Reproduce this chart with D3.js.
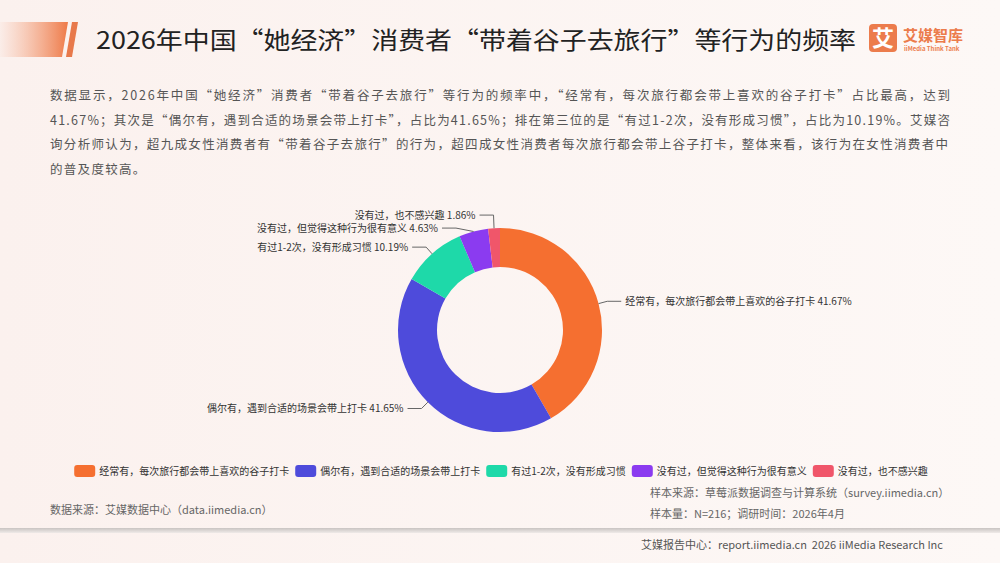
<!DOCTYPE html>
<html><head><meta charset="utf-8">
<script src="https://cdn.jsdelivr.net/npm/d3@7/dist/d3.min.js"></script>
<style>
html,body{margin:0;padding:0;background:#fcf5f2;}
svg{display:block;font-family:"Noto Sans CJK SC","Noto Sans",sans-serif;}
</style></head>
<body><svg id="c" width="1000" height="563"></svg>
<script>
const categories = ["经常有，每次旅行都会带上喜欢的谷子打卡","偶尔有，遇到合适的场景会带上打卡","有过1-2次，没有形成习惯","没有过，但觉得这种行为很有意义","没有过，也不感兴趣"];
const values = [41.67, 41.65, 10.19, 4.63, 1.86];
const colors = ["#f56f30","#4e4bdb","#1ed9a9","#8b3bf0","#f0566a"];
const titleText = "2026年中国“她经济”消费者“带着谷子去旅行”等行为的频率";
const paragraph = [
 "数据显示，2026年中国“她经济”消费者“带着谷子去旅行”等行为的频率中，“经常有，每次旅行都会带上喜欢的谷子打卡”占比最高，达到",
 "41.67%；其次是“偶尔有，遇到合适的场景会带上打卡”，占比为41.65%；排在第三位的是“有过1-2次，没有形成习惯”，占比为10.19%。艾媒咨",
 "询分析师认为，超九成女性消费者有“带着谷子去旅行”的行为，超四成女性消费者每次旅行都会带上谷子打卡，整体来看，该行为在女性消费者中",
 "的普及度较高。"
];
const sourceLeft = "数据来源：艾媒数据中心（data.iimedia.cn）";
const sourceRight = ["样本来源：草莓派数据调查与计算系统（survey.iimedia.cn）","样本量：N=216；调研时间：2026年4月"];
const footer = "艾媒报告中心：report.iimedia.cn\u00a0\u00a02026 iiMedia Research Inc";

const svg = d3.select("#c");
const defs = svg.append("defs");
const bg = defs.append("linearGradient").attr("id","bg").attr("x1",0).attr("x2",1).attr("y1",0).attr("y2",0);
bg.append("stop").attr("offset","0").attr("stop-color","#fbf1ee");
bg.append("stop").attr("offset","1").attr("stop-color","#fdf8f6");
svg.append("rect").attr("width",1000).attr("height",563).attr("fill","url(#bg)");

// header bar
const hg = defs.append("linearGradient").attr("id","hg").attr("x1",0).attr("x2",1).attr("y1",0).attr("y2",0);
hg.append("stop").attr("offset","0").attr("stop-color","#f4a27e").attr("stop-opacity",0.05);
hg.append("stop").attr("offset","1").attr("stop-color","#ee7a48");
svg.append("polygon").attr("points","0,22 68,22 62,57 0,57").attr("fill","url(#hg)");
svg.append("polygon").attr("points","72,22 78,22 72,57 66,57").attr("fill","#e8794b");

svg.append("text").attr("x",96).attr("y",49).attr("font-size",24).attr("fill","#222")
  .attr("textLength",760).attr("lengthAdjust","spacingAndGlyphs").text(titleText);

// logo
svg.append("rect").attr("x",869).attr("y",24).attr("width",28).attr("height",28).attr("rx",4).attr("fill","#ec7c4c");
svg.append("text").attr("x",883).attr("y",46).attr("text-anchor","middle").attr("font-size",22).attr("font-weight","bold").attr("fill","#fff").text("艾");
svg.append("text").attr("x",903).attr("y",41).attr("font-size",15).attr("font-weight","bold").attr("fill","#ec7c4c").text("艾媒智库");
svg.append("text").attr("x",904).attr("y",51).attr("font-size",6).attr("font-weight","bold").attr("fill","#ec7c4c").text("iiMedia Think Tank");

// paragraph
paragraph.forEach((t,i)=>{
  const tx = svg.append("text").attr("x",50).attr("y",100+i*24.7).attr("font-size",12.5).attr("fill","#555").text(t);
  if(i<3) tx.attr("textLength",i===2?898:900).attr("lengthAdjust","spacing");
  else tx.attr("letter-spacing",1.3);
});

// donut
const cx=500, cy=330, R=102, r0=63;
const pie = d3.pie().sort(null).value(d=>d)(values);
const arc = d3.arc().innerRadius(r0).outerRadius(R);
const g = svg.append("g").attr("transform",`translate(${cx},${cy})`);
g.selectAll("path").data(pie).join("path").attr("d",arc).attr("fill",(d,i)=>colors[i]);

// labels
const len1=9, len2=14, R1=R+len1, gap=13;
const labs = pie.map((d,i)=>{
  const a=(d.startAngle+d.endAngle)/2;
  const p1=[cx+R*Math.sin(a), cy-R*Math.cos(a)];
  const p2=[cx+R1*Math.sin(a), cy-R1*Math.cos(a)];
  return {i,a,p1,x2:p2[0],y:p2[1],y0:p2[1],right:Math.sin(a)>=0};
});
[true,false].forEach(side=>{
  const s = labs.filter(l=>l.right===side).sort((a,b)=>a.y-b.y);
  for(let it=0;it<50;it++){
    for(let k=1;k<s.length;k++){
      const d=s[k].y-s[k-1].y;
      if(d<gap){const m=(gap-d)/2; s[k].y+=m+0.6; s[k-1].y-=m-0.6;}
    }
  }
  s.forEach(l=>{
    const dy=l.y-cy;
    if(Math.abs(dy)<R1 && Math.abs(l.y-l.y0)>0.5){
      l.x2=cx+(side?1:-1)*Math.sqrt(R1*R1-dy*dy);
    }
  });
});
labs.forEach(l=>{
  const sgn=l.right?1:-1;
  const x3=l.x2+sgn*len2;
  svg.append("polyline").attr("points",`${l.p1[0]},${l.p1[1]} ${l.x2},${l.y} ${x3},${l.y}`)
    .attr("fill","none").attr("stroke","#666").attr("stroke-width",1);
  svg.append("text").attr("x",x3+sgn*4).attr("y",l.y).attr("dy","0.35em")
    .attr("text-anchor",l.right?"start":"end").attr("font-size",10).attr("fill","#333")
    .text(categories[l.i]+" "+values[l.i].toFixed(2)+"%");
});

// legend
const lg = svg.append("g");
let x=0;
const itemGap=6;
categories.forEach((c,i)=>{
  const it=lg.append("g").attr("transform",`translate(${x},0)`);
  it.append("rect").attr("x",0).attr("y",-6).attr("width",21).attr("height",12).attr("rx",3).attr("fill",colors[i]);
  const t=it.append("text").attr("x",25).attr("y",0).attr("dy","0.35em").attr("font-size",10).attr("fill","#333").text(c);
  x+=25+t.node().getComputedTextLength()+itemGap;
});
const total=x-itemGap;
lg.attr("transform",`translate(${501-total/2},471)`);

// sources
svg.append("text").attr("x",50).attr("y",514).attr("font-size",11).attr("fill","#666").text(sourceLeft);
sourceRight.forEach((t,i)=>svg.append("text").attr("x",650).attr("y",497+i*21).attr("font-size",11).attr("fill","#666").text(t));

// separator
const sg = defs.append("linearGradient").attr("id","sg").attr("x1",0).attr("x2",0).attr("y1",0).attr("y2",1);
sg.append("stop").attr("offset","0").attr("stop-color","#c9c4c2");
sg.append("stop").attr("offset","1").attr("stop-color","#efeae8");
svg.append("rect").attr("x",0).attr("y",528).attr("width",1000).attr("height",5).attr("fill","url(#sg)");
svg.append("text").attr("x",641).attr("y",549).attr("font-size",11).attr("fill","#555").text(footer);
</script></body></html>
